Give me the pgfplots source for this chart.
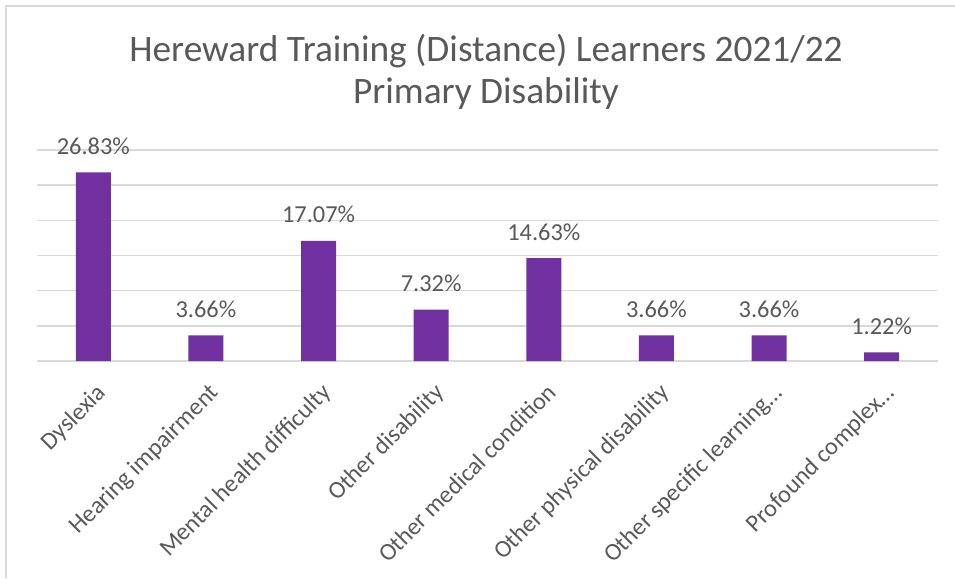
\documentclass[border=0pt]{standalone}
\usepackage{pgfplots}
\pgfplotsset{compat=1.18}
\usepackage{pgfplotstable}
\usepackage{fontspec}
\setmainfont{Carlito}
\definecolor{barc}{HTML}{7030A0}
\definecolor{txt}{HTML}{595959}
\definecolor{gridc}{HTML}{D9D9D9}
\pgfplotstableread[col sep=comma]{
x,y,lab
0,26.83,26.83\%
1,3.66,3.66\%
2,17.07,17.07\%
3,7.32,7.32\%
4,14.63,14.63\%
5,3.66,3.66\%
6,3.66,3.66\%
7,1.22,1.22\%
}\datatable
\begin{document}
\begin{tikzpicture}[x=0.75pt,y=0.75pt]
\path[use as bounding box] (0,0) rectangle (955,578);
\draw[gridc, line width=1.5pt] (6,0) -- (6,572) -- (955,572);
\node[anchor=base, text=txt, font=\fontsize{28}{32}\selectfont] at (486,516) {Hereward Training (Distance) Learners 2021/22};
\node[anchor=base, text=txt, font=\fontsize{28}{32}\selectfont] at (486,474) {Primary Disability};
\begin{axis}[at={(27.75pt,162.75pt)}, anchor=south west, scale only axis,
  width=675.75pt, height=158.25pt,
  xmin=-0.5, xmax=7.5, ymin=0, ymax=30,
  ytick={0,5,...,30}, yticklabels={},
  ymajorgrids, grid style={gridc, line width=1.1pt},
  axis line style={draw=none}, major tick length=0pt,
  xtick=data,
  xticklabels={Dyslexia,Hearing impairment,Mental health difficulty,Other disability,Other medical condition,Other physical disability,Other specific learning\dots,Profound complex\dots},
  xticklabel style={rotate=45, anchor=north east, font=\fontsize{18.3}{20}\selectfont, text=txt, inner sep=2pt, xshift=-8pt, yshift=-10pt},
  clip=false,
  ybar, bar width=26.25pt,
  nodes near coords, point meta=explicit symbolic,
  every node near coord/.append style={anchor=base, yshift=13.5pt, inner sep=0pt, font=\fontsize{18.3}{20}\selectfont, text=txt},
]
\addplot[fill=barc, draw=none] table[x=x, y=y, meta=lab] {\datatable};
\end{axis}
\end{tikzpicture}
\end{document}
